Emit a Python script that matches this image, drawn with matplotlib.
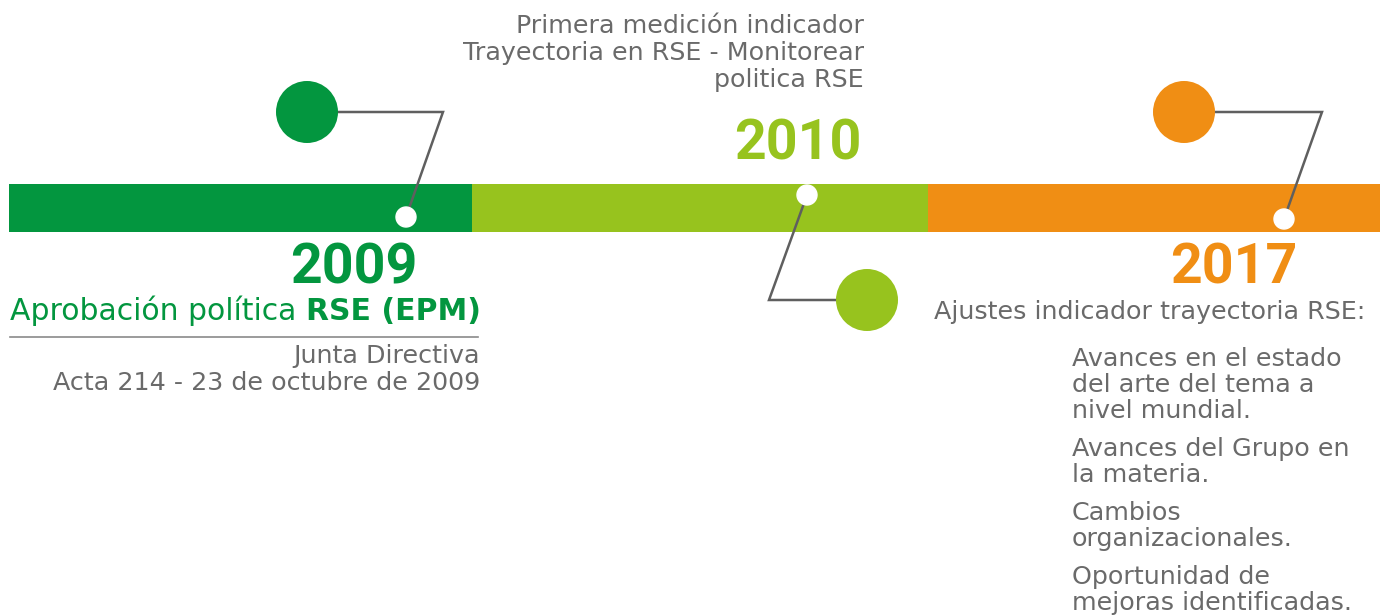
import matplotlib.pyplot as plt
from matplotlib.patches import Rectangle, Circle

# timeline data
years = ["2009", "2010", "2017"]
colors = ["#03963f", "#97c31e", "#f08e14"]
segments = [(9, 472), (472, 928), (928, 1380)]

text_2009 = "Aprobación política "
text_2009_bold = "RSE (EPM)"
sub_2009 = ["Junta Directiva", "Acta 214 - 23 de octubre de 2009"]
text_2010 = ["Primera medición indicador", "Trayectoria en RSE - Monitorear", "politica RSE"]
text_2017 = "Ajustes indicador trayectoria RSE:"
items_2017 = [
    ["Avances en el estado", "del arte del tema a", "nivel mundial."],
    ["Avances del Grupo en", "la materia."],
    ["Cambios", "organizacionales."],
    ["Oportunidad de", "mejoras identificadas."],
]

GRAY = "#6a6a6a"
LINE = "#5f5f5f"
FONT = "DejaVu Sans"
YEAR_FONT = "Roboto"
BODY = 18.3

fig = plt.figure(figsize=(13.8, 6.16), dpi=100)
ax = fig.add_axes([0, 0, 1, 1])
ax.set_xlim(0, 1380)
ax.set_ylim(616, 0)
ax.axis("off")

# bar
for (x0, x1), c in zip(segments, colors):
    ax.add_patch(Rectangle((x0, 184), x1 - x0, 48, color=c, lw=0))

# connectors: big circle -> elbow -> small white dot on the bar
connectors = [
    ((307, 112), [(338, 112), (443, 112), (406, 217)], (406, 217)),
    ((867, 300), [(836, 300), (769, 300), (807, 195)], (807, 195)),
    ((1184, 112), [(1215, 112), (1322, 112), (1284, 219)], (1284, 219)),
]
for (center, path, dot), c in zip(connectors, colors):
    xs, ys = zip(*path)
    ax.plot(xs, ys, color=LINE, lw=1.8, solid_joinstyle="miter", zorder=3)
    ax.add_patch(Circle(center, 31, color=c, lw=0, zorder=4))
    ax.add_patch(Circle(dot, 10, facecolor="white", edgecolor="white", zorder=5))

# year labels
year_pos = [(418, 284), (861, 159), (1297, 284)]
for yr, (x, y), c in zip(years, year_pos, colors):
    ax.text(x, y, yr, color=c, fontsize=40, fontweight="bold",
            family=YEAR_FONT, ha="right", va="baseline")

# 2009 block
t = ax.text(10, 320, text_2009, color=colors[0], fontsize=21.5, family=FONT,
            ha="left", va="baseline")
fig.canvas.draw()
x_end = ax.transData.inverted().transform(t.get_window_extent().p1)[0]
ax.text(x_end, 320, text_2009_bold, color=colors[0], fontsize=21.5,
        fontweight="bold", family=FONT, ha="left", va="baseline")
ax.plot([10, 478], [337, 337], color="#8a8a8a", lw=1.2)
for i, line in enumerate(sub_2009):
    ax.text(480, 363 + 27 * i, line, color=GRAY, fontsize=BODY, family=FONT,
            ha="right", va="baseline")

# 2010 block
for i, line in enumerate(text_2010):
    ax.text(864, 33 + 27 * i, line, color=GRAY, fontsize=BODY, family=FONT,
            ha="right", va="baseline")

# 2017 block
ax.text(1365, 319, text_2017, color=GRAY, fontsize=BODY, family=FONT,
        ha="right", va="baseline")
y = 366
for item in items_2017:
    for line in item:
        ax.text(1072, y, line, color=GRAY, fontsize=BODY, family=FONT,
                ha="left", va="baseline")
        y += 26
    y += 12

fig.savefig("out.png", dpi=100)
